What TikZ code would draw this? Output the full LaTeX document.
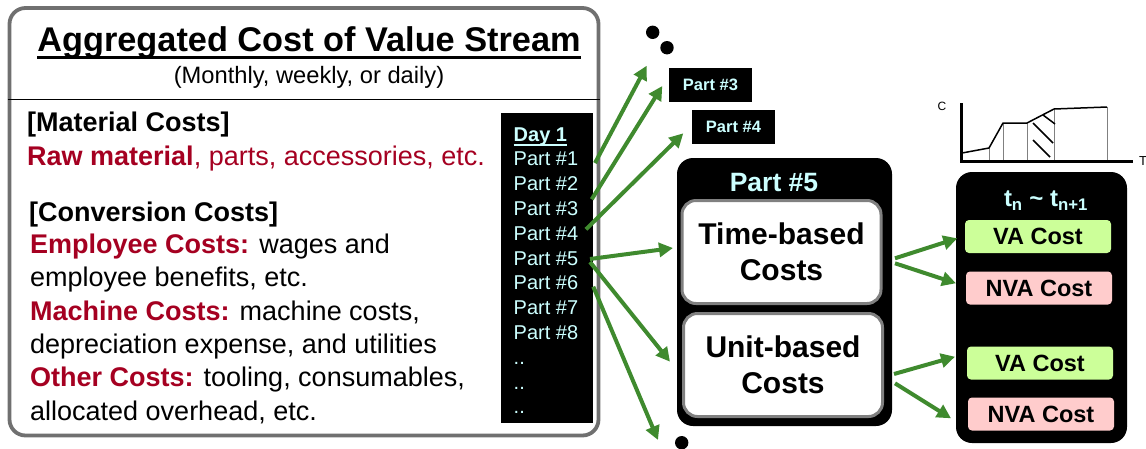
\documentclass[tikz,border=0pt]{standalone}
\usepackage{fontspec}
\setmainfont{Liberation Sans}
\usetikzlibrary{arrows.meta,calc}
\definecolor{dred}{RGB}{165,0,33}
\definecolor{lcyan}{RGB}{204,255,255}
\definecolor{agreen}{RGB}{63,138,46}
\definecolor{vagreen}{RGB}{204,255,153}
\definecolor{nvapink}{RGB}{255,204,204}
\definecolor{bordergray}{RGB}{112,112,112}
\definecolor{innergray}{RGB}{128,128,128}
\newcommand\fsz[2]{\fontsize{#1}{#2}\selectfont}
\tikzset{
  lt/.style={anchor=base west, inner sep=0pt, font=\fsz{27}{33}},
  plist/.style={anchor=base west, inner sep=0pt, text=lcyan, font=\fsz{20}{24}},
  smallpart/.style={fill=black, minimum width=83pt, minimum height=34pt, inner sep=0pt, text=lcyan, font=\fsz{16.5}{18}\bfseries},
  innerbox/.style={draw=innergray, line width=3pt, fill=white, rounded corners=14pt, minimum width=199pt, minimum height=103pt, inner sep=0pt, align=center, font=\fsz{30}{36.5}\bfseries},
  blackbox/.style={fill=black, rounded corners=16pt, inner sep=0pt},
  costbox/.style={rounded corners=4pt, minimum width=146pt, minimum height=33pt, inner sep=0pt, font=\fsz{23.5}{26}\bfseries},
  vabox/.style={costbox, fill=vagreen},
  nvabox/.style={costbox, fill=nvapink},
  dotnode/.style={circle, fill=black, minimum size=13.4pt, inner sep=0pt},
  garrow/.style={draw=agreen, line width=4pt, -{Triangle[length=14pt,width=14pt]}},
}
\begin{document}
\begin{tikzpicture}[x=1pt,y=-1pt]
\useasboundingbox (0,0) rectangle (1146,448);
% left box
\node[draw=bordergray, line width=3.8pt, rounded corners=16pt, fill=white, minimum width=589pt, minimum height=427.5pt, inner sep=0pt] (leftbox) at (304,221.75) {};
\draw[line width=1.5pt] (leftbox.west |- 0,99.5) -- (leftbox.east |- 0,99.5);
\node[anchor=base, inner sep=0pt, font=\fsz{34.3}{40}\bfseries] (title) at (309,51.5) {Aggregated Cost of Value Stream};
\draw[line width=3pt] ($(title.base west)+(0,6)$) -- ($(title.base east)+(0,6)$);
\node[anchor=base, inner sep=0pt, font=\fsz{23.7}{28}] (subtitle) at (309,83.5) {(Monthly, weekly, or daily)};
\node[lt] (mat) at (27,131) {\bfseries [Material Costs]};
\node[lt, text=dred] (raw) at (27,165) {\textbf{Raw material}, parts, accessories, etc.};
\node[lt] (conv) at (29,221) {\bfseries [Conversion Costs]};
\node[lt] (emp) at (30,253) {\textcolor{dred}{\textbf{Employee Costs:}} wages and};
\node[lt] (emp2) at (30,286.6) {employee benefits, etc.};
\node[lt] (mach) at (30,320) {\textcolor{dred}{\textbf{Machine Costs:}} machine costs,};
\node[lt] (mach2) at (30,353) {depreciation expense, and utilities};
\node[lt] (oth) at (30,386) {\textcolor{dred}{\textbf{Other Costs:}} tooling, consumables,};
\node[lt] (oth2) at (30,420) {allocated overhead, etc.};
% part list
\node[fill=black, minimum width=92pt, minimum height=310pt, inner sep=0pt] (plistbox) at (547,268) {};
\node[plist, font=\fsz{20}{24}\bfseries] (day) at (513.5,141) {Day 1};
\draw[lcyan, line width=2pt] ($(day.base west)+(0,3.5)$) -- ($(day.base east)+(0,3.5)$);
\foreach \i in {1,...,8} {\node[plist] (p\i) at (513.5,{141+24.8*\i}) {Part \#\i};}
\foreach \i in {9,10,11} {\node[plist] (q\i) at (513.5,{141+24.8*\i}) {..};}
% dots and small part boxes
\node[dotnode] (dot1) at (652.7,32.3) {};
\node[dotnode] (dot2) at (667,47.7) {};
\node[dotnode] (dot3) at (681.7,442.7) {};
\node[smallpart] (sp3) at (710.5,85) {Part \#3};
\node[smallpart] (sp4) at (733.5,127) {Part \#4};
% Part 5 box
\node[blackbox, minimum width=215pt, minimum height=268pt] (bigbox) at (784.5,292) {};
\node[anchor=base, inner sep=0pt, text=lcyan, font=\fsz{26.5}{30}\bfseries] (p5head) at (774,191.7) {Part \#5};
\node[innerbox] (tb) at (781.5,252) {Time-based\\Costs};
\node[innerbox] (ub) at (783,365) {Unit-based\\Costs};
% right box
\node[blackbox, minimum width=171pt, minimum height=271pt] (rbox) at (1041.5,307.5) {};
\node[anchor=base, inner sep=0pt, text=lcyan, font=\fsz{24}{28}\bfseries] (thead) at (1046,206.7) {t\textsubscript{n} \textasciitilde{} t\textsubscript{n+1}};
\node[vabox] (va1) at (1038,236.5) {VA Cost};
\node[nvabox] (nva1) at (1039,288) {NVA Cost};
\node[vabox] (va2) at (1040,363) {VA Cost};
\node[nvabox] (nva2) at (1041,414) {NVA Cost};
% chart
\draw[line width=3.5pt] (961.5,103) -- (961.5,161.7) -- (1133,161.7);
\draw[innergray, line width=1pt] (989,148) -- (989,160) (1003,123) -- (1003,160) (1027,123) -- (1027,160) (1054,109) -- (1054,160) (1107,107) -- (1107,160);
\draw[line width=1.5pt, line join=round] (962,153) -- (989,148) -- (1003,123) -- (1027,123) -- (1054,109) -- (1107,107);
\draw[line width=1.5pt] (1043,115) -- (1055,124) (1033,123) -- (1053,143) (1033,140) -- (1050,157);
\node[font=\fsz{12}{14}] (clab) at (942,106) {C};
\node[font=\fsz{13}{15}] (tlab) at (1143,161) {T};
% arrows
\coordinate (s1) at (595,163);   \coordinate (e1) at (646.7,65.7);
\coordinate (s2) at (591.7,199.3); \coordinate (e2) at (662.3,86);
\coordinate (s3) at (586,229.3); \coordinate (e3) at (683.3,133.3);
\coordinate (s4) at (590,259);   \coordinate (e4) at (673,248);
\coordinate (s5) at (590,262);   \coordinate (e5) at (670,361.7);
\coordinate (s6) at (593.3,286.7); \coordinate (e6) at (658,440);
\coordinate (r1) at (895,258.3); \coordinate (f1) at (957.3,238.3);
\coordinate (r2) at (895,263.3); \coordinate (f2) at (956,283.3);
\coordinate (r3) at (894,374);   \coordinate (f3) at (955,356.7);
\coordinate (r4) at (895,383.3); \coordinate (f4) at (951,418.3);
\foreach \a/\b in {s1/e1,s2/e2,s3/e3,s4/e4,s5/e5,s6/e6,r1/f1,r2/f2,r3/f3,r4/f4} {\draw[garrow] (\a) -- (\b);}
\end{tikzpicture}
\end{document}
